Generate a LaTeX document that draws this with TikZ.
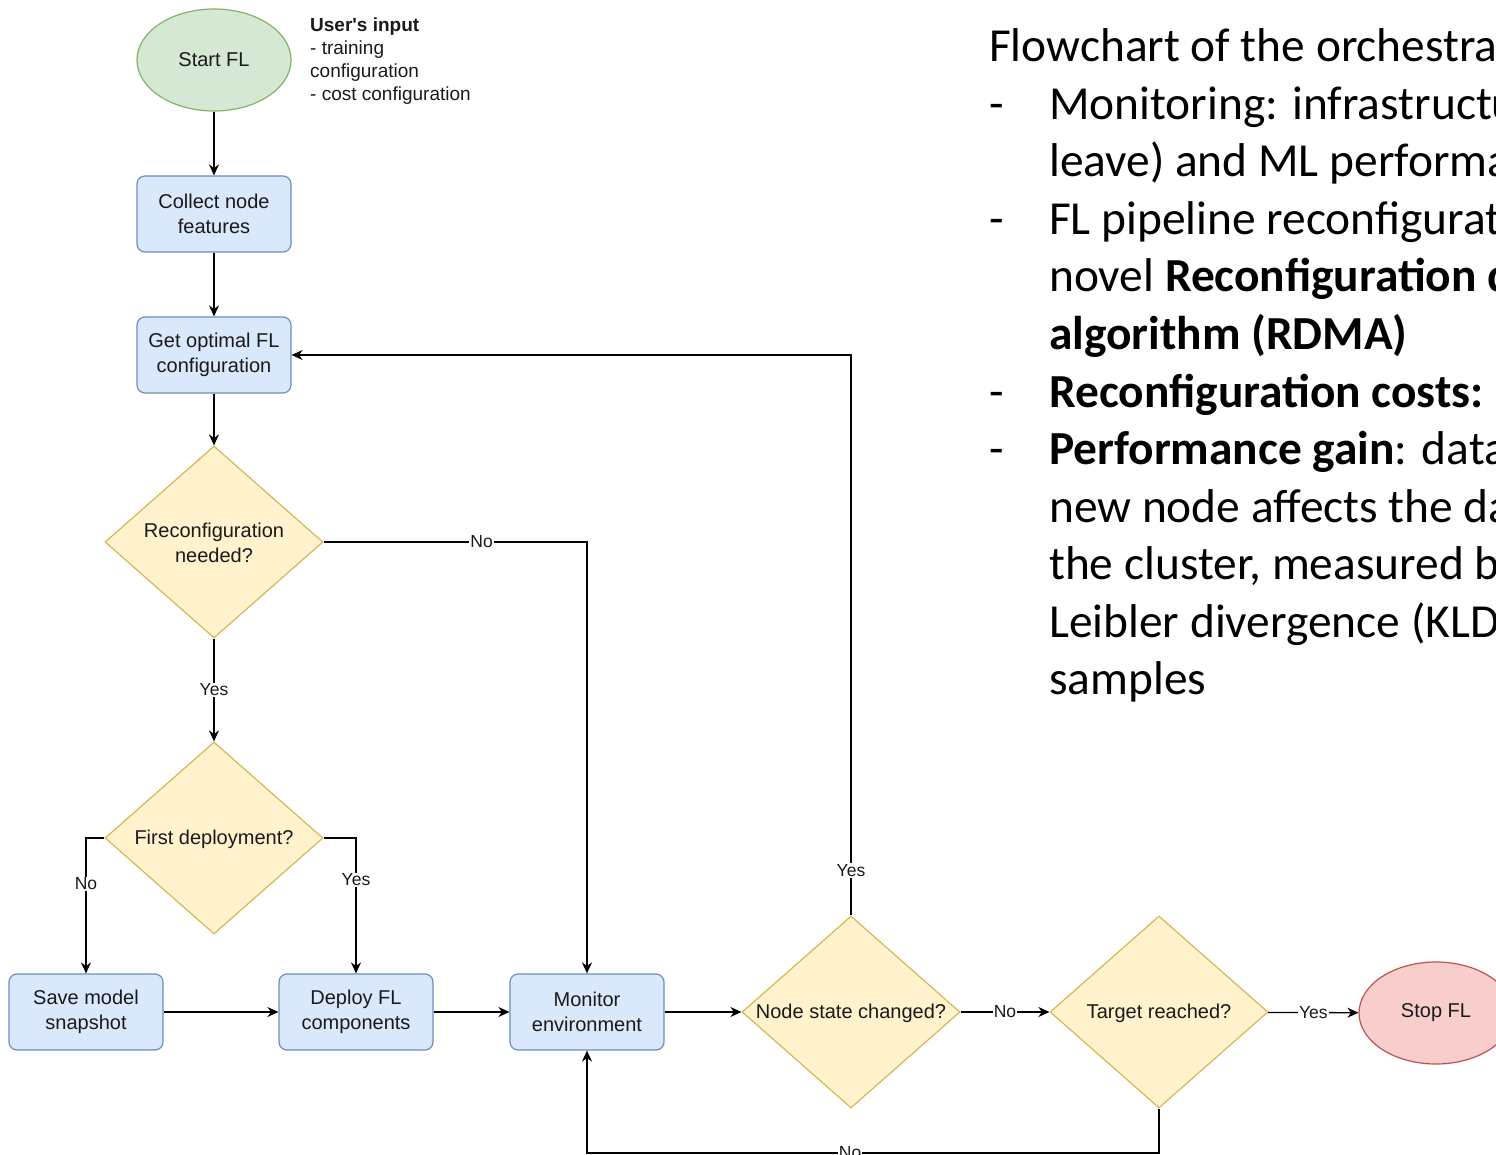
\documentclass[tikz,border=0pt]{standalone}
\usepackage{fontspec}
\setmainfont{Liberation Sans}
\newfontfamily\notefont{Carlito}
\usetikzlibrary{shapes.geometric,arrows.meta}
\definecolor{procfill}{HTML}{DAE8FC}
\definecolor{procline}{HTML}{6C8EBF}
\definecolor{decfill}{HTML}{FFF2CC}
\definecolor{decline}{HTML}{D6B656}
\definecolor{startfill}{HTML}{D5E8D4}
\definecolor{startline}{HTML}{82B366}
\definecolor{stopfill}{HTML}{F8CECC}
\definecolor{stopline}{HTML}{B85450}
\definecolor{ink}{HTML}{1A1A1A}

\begin{document}
\begin{tikzpicture}[x=1pt,y=-1pt,
  font=\fontsize{20}{25}\selectfont, text=ink,
  process/.style={rectangle, rounded corners=8pt, draw=procline, fill=procfill,
    line width=1.2pt, minimum width=154pt, minimum height=76pt, align=center, inner sep=0pt},
  decision/.style={diamond, draw=decline, fill=decfill, line width=1.2pt,
    minimum width=218pt, minimum height=192pt, inner sep=0pt},
  terminal/.style={ellipse, line width=1.2pt, minimum width=154pt, minimum height=102pt, inner sep=0pt},
  flow/.style={draw=black, line width=1.3pt, -{Stealth[length=11pt,width=10pt]}},
  elabel/.style={fill=white, inner sep=1pt, font=\fontsize{17.5}{19}\selectfont},
  note/.style={anchor=base west, inner sep=0pt, text=black,
    font=\notefont\fontsize{47.4}{57.5}\selectfont}
]
\useasboundingbox (0,0) rectangle (1496,1155);
\clip (0,0) rectangle (1496,1155);

% flowchart nodes
\node[terminal, draw=startline, fill=startfill] (start) at (214,60) {Start FL};
\node[anchor=north west, align=left, inner sep=0pt, font=\fontsize{19}{23}\selectfont]
  (userin) at (310,18) {\textbf{User\textquotesingle s input}\\- training\\configuration\\- cost configuration};
\node[process] (collect) at (214,214) {Collect node\\features};
\node[process] (getcfg) at (214,355) {Get optimal FL\\configuration};
\node[decision, label={[align=center, yshift=-1pt]center:Reconfiguration\\needed?}] (reconf) at (214,542) {};
\node[decision, label={[yshift=-1pt]center:First deployment?}] (first) at (214,838) {};
\node[process] (save) at (86,1012) {Save model\\snapshot};
\node[process] (deploy) at (356,1012) {Deploy FL\\components};
\node[process] (monitor) at (587,1012) {Monitor\\environment};
\node[decision, label={[yshift=-1pt]center:Node state changed?}] (nodechg) at (851,1012) {};
\node[decision, label={[yshift=-1pt]center:Target reached?}] (target) at (1159,1012) {};
\node[terminal, draw=stopline, fill=stopfill] (stop) at (1436,1013) {Stop FL};
\coordinate (loopY) at (0,1153);

% connectors
\draw[flow] (start) -- (collect);
\draw[flow] (collect) -- (getcfg);
\draw[flow] (getcfg) -- (reconf);
\draw[flow] (reconf) -- node[elabel]{Yes} (first);
\draw[flow] (reconf.east) -| node[elabel, pos=0.3]{No} (monitor.north);
\draw[flow] (first.west) -| node[elabel, pos=0.67]{No} (save.north);
\draw[flow] (first.east) -| node[elabel, pos=0.655]{Yes} (deploy.north);
\draw[flow] (save) -- (deploy);
\draw[flow] (deploy) -- (monitor);
\draw[flow] (monitor) -- (nodechg);
\draw[flow] (nodechg.north) |- node[elabel, pos=0.04]{Yes} (getcfg.east);
\draw[flow] (nodechg) -- node[elabel]{No} (target);
\draw[flow] (target) -- node[elabel]{Yes} (stop);
\draw[flow] (target.south) -- (target.south |- loopY)
  -- node[elabel, pos=0.54]{No} (monitor.south |- loopY) -- (monitor.south);

% explanatory text
\node[note] (t1) at (989,62) {Flowchart of the orchestrator};
\node[note] (d1) at (989,119.5) {-};
\node[note] (t2) at (1049,119.5) {Monitoring: infrastructure};
\node[note] (t3) at (1049,177) {leave) and ML performance};
\node[note] (d2) at (989,234.5) {-};
\node[note] (t4) at (1049,234.5) {FL pipeline reconfiguration};
\node[note] (t5) at (1049,292) {novel \textbf{Reconfiguration decision}};
\node[note] (t6) at (1049,349.5) {\textbf{algorithm (RDMA)}};
\node[note] (d3) at (989,407) {-};
\node[note] (t7) at (1049,407) {\textbf{Reconfiguration costs:}};
\node[note] (d4) at (989,464.5) {-};
\node[note] (t8) at (1049,464.5) {\textbf{Performance gain}: data};
\node[note] (t9) at (1049,522) {new node affects the data};
\node[note] (t10) at (1049,579.5) {the cluster, measured by};
\node[note] (t11) at (1049,637) {Leibler divergence (KLD)};
\node[note] (t12) at (1049,694.5) {samples};
\end{tikzpicture}
\end{document}
